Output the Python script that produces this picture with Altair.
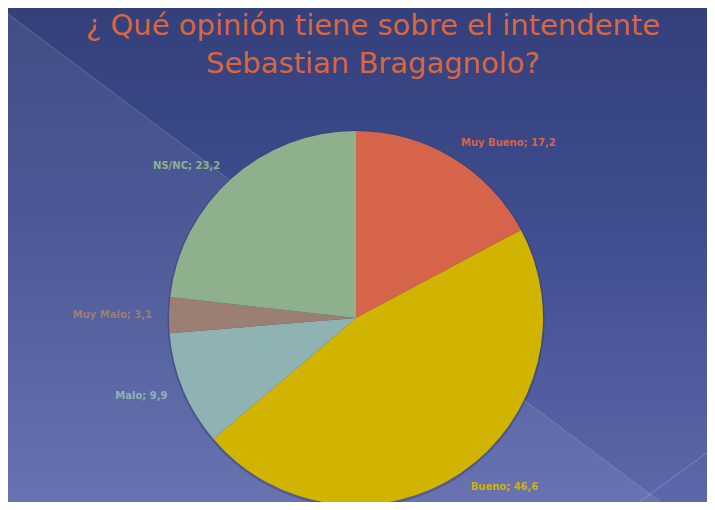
import altair as alt
import pandas as pd

categories = ["Muy Bueno", "Bueno", "Malo", "Muy Malo", "NS/NC"]
values = [17.2, 46.6, 9.9, 3.1, 23.2]
value_labels = ["17,2", "46,6", "9,9", "3,1", "23,2"]
slice_colors = ["#d6644a", "#d0b400", "#8fb3b3", "#9a7f72", "#8fb08c"]
label_colors = ["#d2664e", "#c9b41c", "#a9bccc", "#8a7f8a", "#8ea69c"]
title_lines = ["¿ Qué opinión tiene sobre el intendente", "Sebastian Bragagnolo?"]

W, H = 699, 494
CX, CY = 348, 310
R = 187
LR = 204

df = pd.DataFrame({
    "cat": categories,
    "val": values,
    "vlab": value_labels,
    "order": list(range(len(categories))),
})

one = pd.DataFrame({"a": [0]})

bg = alt.Chart(one).mark_rect(
    color=alt.Gradient(
        gradient="linear",
        stops=[alt.GradientStop(color="#33407a", offset=0),
               alt.GradientStop(color="#404d90", offset=0.45),
               alt.GradientStop(color="#5d68ab", offset=1)],
        x1=0, x2=0, y1=0, y2=1,
    )
).encode(x=alt.value(0), x2=alt.value(W), y=alt.value(0), y2=alt.value(H))

# lighter lower-left panel of the slide background
panel = alt.Chart(one).mark_rect(
    color=alt.Gradient(
        gradient="linear",
        stops=[alt.GradientStop(color="rgba(255,255,255,0)", offset=0),
               alt.GradientStop(color="rgba(255,255,255,0.07)", offset=0.004),
               alt.GradientStop(color="rgba(255,255,255,0.07)", offset=1)],
        x1=0.5, y1=0.5414, x2=0.1, y2=0.919,
    )
).encode(x=alt.value(0), x2=alt.value(W), y=alt.value(0), y2=alt.value(H))

line1 = alt.Chart(one).mark_rule(color="#ffffff", opacity=0.22, strokeWidth=1).encode(
    x=alt.value(-8), y=alt.value(0), x2=alt.value(707), y2=alt.value(535))
line2 = alt.Chart(one).mark_rule(color="#ffffff", opacity=0.22, strokeWidth=1).encode(
    x=alt.value(707), y=alt.value(439), x2=alt.value(605), y2=alt.value(513))

color_scale = alt.Scale(domain=categories, range=slice_colors)
label_scale = alt.Scale(domain=categories, range=label_colors)

base = alt.Chart(df).transform_joinaggregate(
    total="sum(val)"
).transform_window(
    cum="sum(val)", sort=[alt.SortField("order")]
).transform_calculate(
    mid="(datum.cum - datum.val/2) / datum.total",
    label="datum.cat + '; ' + datum.vlab",
).transform_calculate(
    lab_r="datum.mid < 0.5 ? datum.label : ''",
    lab_l="datum.mid >= 0.5 ? datum.label : ''",
)

theta = alt.Theta("val:Q", stack=True, scale=alt.Scale(domain=[0, 100]))
order = alt.Order("order:O")

shadow = base.mark_arc(color="#1e2650", opacity=0.3).encode(
    theta=theta,
    order=order,
    radius=alt.value(R + 1.5),
    x=alt.value(CX),
    y=alt.value(CY + 1),
)

pie = base.mark_arc().encode(
    theta=theta,
    order=order,
    color=alt.Color("cat:N", scale=color_scale, legend=None),
    radius=alt.value(R),
    x=alt.value(CX),
    y=alt.value(CY),
)

def labels(field, align):
    return base.mark_text(
        align=align, baseline="middle", font="DejaVu Sans", fontSize=10, fontWeight="bold"
    ).encode(
        theta=theta,
        order=order,
        text=f"{field}:N",
        color=alt.Color("cat:N", scale=label_scale, legend=None),
        radius=alt.value(LR),
        x=alt.value(CX),
        y=alt.value(CY),
    )

text_r = labels("lab_r", "left")
text_l = labels("lab_l", "right")

title = alt.Chart(one).mark_text(
    text=title_lines, align="center", baseline="alphabetic",
    font="DejaVu Sans", fontSize=29, lineHeight=38, color="#d9663f",
).encode(x=alt.value(365), y=alt.value(27))

chart = alt.layer(bg, panel, line1, line2, shadow, pie, text_r, text_l, title).properties(
    width=W, height=H,
    autosize=alt.AutoSizeParams(type="none"),
    padding=0,
).configure_view(stroke=None).configure(background="#34417a")

chart.save("out.html", embed_options={"renderer": "svg", "actions": False})
